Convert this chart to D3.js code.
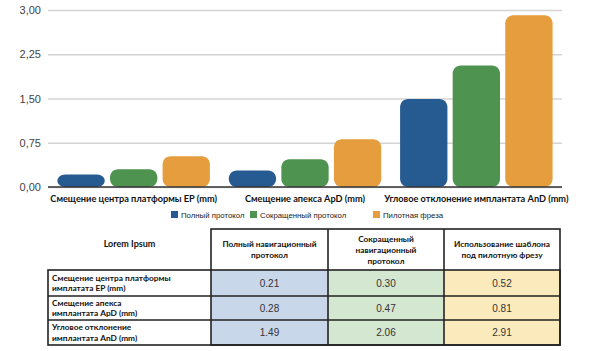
<!DOCTYPE html>
<html>
<head>
<meta charset="utf-8">
<script src="https://cdn.jsdelivr.net/npm/d3@7"></script>
<style>
body { margin: 0; background: #fff; }
svg { display: block; }
</style>
</head>
<body>
<script>
const width = 591;
const height = 351;

// data
var categories = ["Смещение центра платформы EP (mm)", "Смещение апекса ApD (mm)", "Угловое отклонение имплантата AnD (mm)"];
var seriesNames = ["Полный протокол", "Сокращенный протокол", "Пилотная фреза"];
var fullProtocol = [0.21, 0.28, 1.49];
var shortProtocol = [0.30, 0.47, 2.06];
var pilotDrill = [0.52, 0.81, 2.91];
var yTicks = [0, 0.75, 1.5, 2.25, 3];

var tableCorner = "Lorem Ipsum";
var tableHeaders = [["Полный навигационный", "протокол"], ["Сокращенный", "навигационный", "протокол"], ["Использование шаблона", "под пилотную фрезу"]];
var tableRowLabels = [["Смещение центра платформы", "имплатата EP (mm)"], ["Смещение апекса", "имплантата ApD (mm)"], ["Угловое отклонение", "имплантата AnD (mm)"]];

var colors = ["#255b91", "#4f9350", "#e69d3d"];
var cellFills = ["#c9d7ea", "#d4e7d0", "#fbeabc"];

var svg = d3.select("body").append("svg").attr("width", width).attr("height", height);

// ---- chart ----
var x0 = d3.scaleBand().domain(categories).range([48, 562]).paddingInner(0.11).paddingOuter(0.055);
var x1 = d3.scaleBand().domain(d3.range(3)).range([0, x0.bandwidth()]).paddingInner(0.1).paddingOuter(0);
var y = d3.scaleLinear().domain([0, 3]).range([187, 10]);

var yAxis = d3.axisLeft(y).tickValues(yTicks).tickSize(-(562 - 48)).tickPadding(7)
    .tickFormat(function (d) { return d3.format(".2f")(d).replace(".", ","); });
var gy = svg.append("g").attr("transform", "translate(48,0)").call(yAxis);
gy.select(".domain").remove();
gy.selectAll(".tick line").attr("stroke", "#d4d4d4").attr("stroke-width", 1.5);
gy.selectAll(".tick text").attr("fill", "#444").style("font-family", "'Liberation Sans', Arial, sans-serif").style("font-size", "11px");

var values = [fullProtocol, shortProtocol, pilotDrill];
var barData = [];
categories.forEach(function (c, i) {
    values.forEach(function (s, j) {
        barData.push({ cat: c, s: j, v: s[i] });
    });
});

svg.append("g").selectAll("path").data(barData).enter().append("path")
    .attr("fill", function (d) { return colors[d.s]; })
    .attr("d", function (d) {
        var x = x0(d.cat) + x1(d.s), w = x1.bandwidth();
        var top = y(d.v), h = y(0) - top;
        var rx = 8, ry = Math.min(8, h / 2);
        var p = d3.path();
        p.moveTo(x + rx, top);
        p.lineTo(x + w - rx, top);
        p.bezierCurveTo(x + w - rx * 0.45, top, x + w, top + ry * 0.45, x + w, top + ry);
        p.lineTo(x + w, top + h - ry);
        p.bezierCurveTo(x + w, top + h - ry * 0.45, x + w - rx * 0.45, top + h, x + w - rx, top + h);
        p.lineTo(x + rx, top + h);
        p.bezierCurveTo(x + rx * 0.45, top + h, x, top + h - ry * 0.45, x, top + h - ry);
        p.lineTo(x, top + ry);
        p.bezierCurveTo(x, top + ry * 0.45, x + rx * 0.45, top, x + rx, top);
        p.closePath();
        return p.toString();
    });

svg.append("line").attr("x1", 48).attr("x2", 562).attr("y1", y(0)).attr("y2", y(0))
    .attr("stroke", "#333").attr("stroke-width", 1.5);

svg.append("g").selectAll("text").data(categories).enter().append("text")
    .attr("x", function (d) { return x0(d) + x0.bandwidth() / 2; })
    .attr("y", 202)
    .attr("text-anchor", "middle")
    .attr("fill", "#111")
    .style("font-family", "Lato, sans-serif")
    .style("font-size", "9.2px")
    .style("font-weight", "bold")
    .text(function (d) { return d; });

// legend
var legendX = [171, 250, 373];
var lg = svg.append("g").selectAll("g").data(seriesNames).enter().append("g")
    .attr("transform", function (d, i) { return "translate(" + legendX[i] + ",211)"; });
lg.append("rect").attr("width", 7).attr("height", 7).attr("fill", function (d, i) { return colors[i]; });
lg.append("text").attr("x", 10).attr("y", 6.5).attr("fill", "#222")
    .style("font-family", "'Liberation Sans', Arial, sans-serif").style("font-size", "7.8px")
    .text(function (d) { return d; });

// ---- table ----
var colX = [48, 211, 328, 444, 560];
var rowY = [229, 270, 296, 320, 345];
var tg = svg.append("g");

// value cells
values.forEach(function (s, j) {
    s.forEach(function (v, i) {
        tg.append("rect").attr("x", colX[j + 1]).attr("y", rowY[i + 1])
            .attr("width", colX[j + 2] - colX[j + 1]).attr("height", rowY[i + 2] - rowY[i + 1])
            .attr("fill", cellFills[j]);
        tg.append("text").attr("x", (colX[j + 1] + colX[j + 2]) / 2).attr("y", (rowY[i + 1] + rowY[i + 2]) / 2 + 3.5)
            .attr("text-anchor", "middle").attr("fill", "#333")
            .style("font-family", "'Liberation Sans', Arial, sans-serif").style("font-size", "10px")
            .text(d3.format(".2f")(v));
    });
});

var lineStyle = function (sel) { return sel.attr("stroke", "#222").attr("stroke-width", 1.6); };
// header box for value columns
lineStyle(tg.append("rect").attr("x", colX[1]).attr("y", rowY[0]).attr("width", colX[4] - colX[1]).attr("height", rowY[4] - rowY[0]).attr("fill", "none"));
// body box incl. first column
lineStyle(tg.append("rect").attr("x", colX[0]).attr("y", rowY[1]).attr("width", colX[4] - colX[0]).attr("height", rowY[4] - rowY[1]).attr("fill", "none"));
[2, 3].forEach(function (c) {
    lineStyle(tg.append("line").attr("x1", colX[c]).attr("x2", colX[c]).attr("y1", rowY[0]).attr("y2", rowY[4]));
});
[2, 3].forEach(function (r) {
    lineStyle(tg.append("line").attr("x1", colX[0]).attr("x2", colX[4]).attr("y1", rowY[r]).attr("y2", rowY[r]));
});

var boldFont = function (sel, size) {
    return sel.attr("fill", "#111").style("font-family", "Lato, sans-serif").style("font-size", (size || 8.3) + "px").style("font-weight", "bold");
};
boldFont(tg.append("text").attr("x", (colX[0] + colX[1]) / 2).attr("y", 247).attr("text-anchor", "middle").text(tableCorner), 9);

tableHeaders.forEach(function (lines, j) {
    var cx = (colX[j + 1] + colX[j + 2]) / 2;
    var cy = (rowY[0] + rowY[1]) / 2;
    var t = boldFont(tg.append("text").attr("text-anchor", "middle"));
    lines.forEach(function (l, k) {
        t.append("tspan").attr("x", cx).attr("y", cy + 3 + (k - (lines.length - 1) / 2) * 11).text(l);
    });
});

tableRowLabels.forEach(function (lines, i) {
    var cy = (rowY[i + 1] + rowY[i + 2]) / 2;
    var t = boldFont(tg.append("text"));
    lines.forEach(function (l, k) {
        t.append("tspan").attr("x", 52).attr("y", cy + 3 + (k - 0.5) * 10.5).text(l);
    });
});
</script>
</body>
</html>
